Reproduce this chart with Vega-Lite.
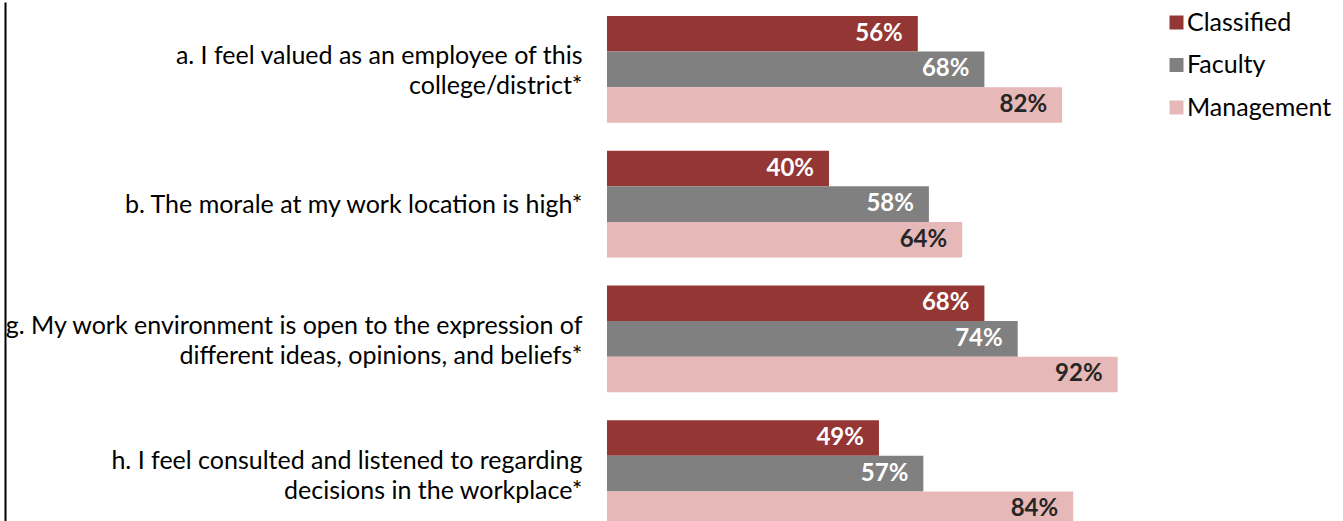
{
  "$schema": "https://vega.github.io/schema/vega-lite/v6.json",
  "autosize": {"type": "none"},
  "padding": {"left": 607, "top": 2, "right": 181, "bottom": 0},
  "width": 555,
  "height": 539,
  "background": "white",
  "config": {
    "view": {"stroke": null},
    "font": "Lato"
  },
  "data": {
    "values": [
      {"question": "a. I feel valued as an employee of this|college/district*", "group": "Classified", "value": 0.56},
      {"question": "a. I feel valued as an employee of this|college/district*", "group": "Faculty", "value": 0.68},
      {"question": "a. I feel valued as an employee of this|college/district*", "group": "Management", "value": 0.82},
      {"question": "b. The morale at my work location is high*", "group": "Classified", "value": 0.40},
      {"question": "b. The morale at my work location is high*", "group": "Faculty", "value": 0.58},
      {"question": "b. The morale at my work location is high*", "group": "Management", "value": 0.64},
      {"question": "g. My work environment is open to the expression of|different ideas, opinions, and beliefs*", "group": "Classified", "value": 0.68},
      {"question": "g. My work environment is open to the expression of|different ideas, opinions, and beliefs*", "group": "Faculty", "value": 0.74},
      {"question": "g. My work environment is open to the expression of|different ideas, opinions, and beliefs*", "group": "Management", "value": 0.92},
      {"question": "h. I feel consulted and listened to regarding|decisions in the workplace*", "group": "Classified", "value": 0.49},
      {"question": "h. I feel consulted and listened to regarding|decisions in the workplace*", "group": "Faculty", "value": 0.57},
      {"question": "h. I feel consulted and listened to regarding|decisions in the workplace*", "group": "Management", "value": 0.84}
    ]
  },
  "encoding": {
    "y": {
      "field": "question",
      "type": "nominal",
      "sort": null,
      "scale": {"paddingInner": 0.208, "paddingOuter": 0.104}
    },
    "yOffset": {
      "field": "group",
      "type": "nominal",
      "sort": ["Classified", "Faculty", "Management"],
      "scale": {"paddingInner": 0, "paddingOuter": 0}
    },
    "x": {
      "field": "value",
      "type": "quantitative",
      "scale": {"domain": [0, 1]},
      "axis": null
    }
  },
  "layer": [
    {
      "mark": {"type": "bar"},
      "encoding": {
        "y": {
          "field": "question",
          "type": "nominal",
          "sort": null,
          "axis": {
            "orient": "left",
            "title": null,
            "domain": false,
            "ticks": false,
            "labelPadding": 25,
            "labelLimit": 800,
            "labelFont": "Lato",
            "labelFontSize": 25,
            "labelColor": "#000000",
            "labelLineHeight": 30,
            "labelOffset": {"condition": {"test": "indexof(datum.label, '|') >= 0", "value": -13}, "value": 1},
            "labelExpr": "split(datum.label, '|')"
          }
        },
        "color": {
          "field": "group",
          "type": "nominal",
          "sort": ["Classified", "Faculty", "Management"],
          "scale": {"domain": ["Classified", "Faculty", "Management"], "range": ["#943634", "#808080", "#E6B9B8"]},
          "legend": {
            "title": null,
            "orient": "none",
            "legendX": 557,
            "legendY": 8,
            "symbolType": "square",
            "symbolSize": 196,
            "symbolStrokeWidth": 0,
            "labelFont": "Lato",
            "labelFontSize": 25,
            "labelColor": "#000000",
            "labelOffset": -2,
            "rowPadding": 16.5,
            "padding": 0
          }
        }
      }
    },
    {
      "mark": {"type": "text", "align": "right", "baseline": "middle", "dx": -15, "fontWeight": "bold", "fontSize": 24, "font": "Lato"},
      "encoding": {
        "y": {
          "field": "question",
          "type": "nominal",
          "sort": null,
          "axis": {
            "orient": "left",
            "title": null,
            "labels": false,
            "ticks": false,
            "grid": false,
            "domain": true,
            "domainColor": "#000000",
            "domainWidth": 2,
            "offset": 602
          }
        },
        "text": {"field": "value", "type": "quantitative", "format": ".0%"},
        "color": {
          "condition": {"test": "datum.group === 'Management'", "value": "#262626"},
          "value": "#ffffff"
        }
      }
    }
  ],
  "resolve": {"axis": {"y": "independent"}}
}
